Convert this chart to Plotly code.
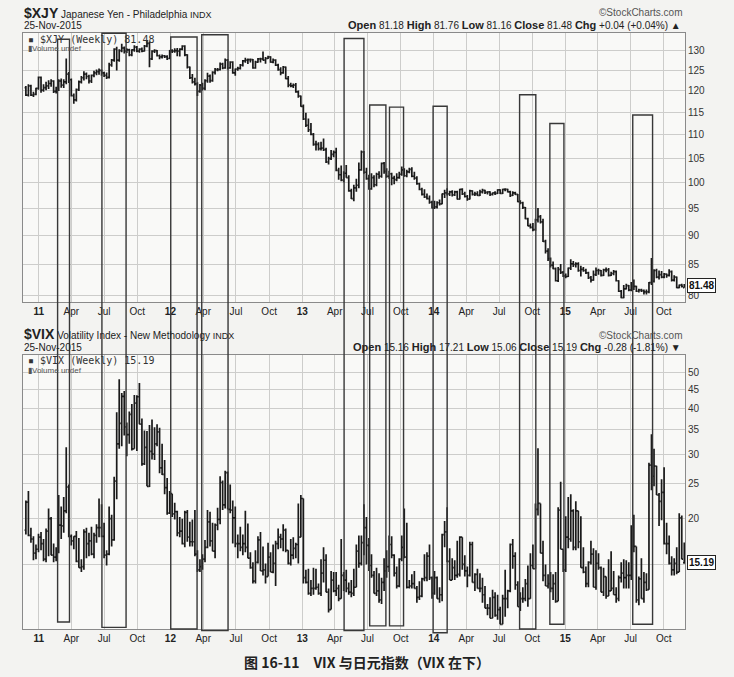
import math
import pandas as pd
import plotly.graph_objects as go

# ---------------- DATA (weekly bars, week ending Friday) ----------------
week_first = '2010-11-26'

xjy_open = [
 120.8,119.0,121.2,119.0,119.2,120.6,
 123.3,120.2,120.8,121.2,121.8,122.4,119.9,120.3,122.4,121.4,122.2,124.1,122.7,118.9,117.9,120.3,122.2,123.2,124.1,123.5,122.4,123.8,124.4,124.7,125.0,124.4,123.8,123.3,126.4,127.6,130.4,127.6,130.0,130.7,129.9,130.2,128.9,130.2,130.9,129.9,130.4,129.9,131.2,131.9,127.9,129.9,130.0,128.7,128.4,128.7,128.5,128.0,
 130.0,129.9,130.0,129.9,130.4,131.2,128.9,125.8,123.2,122.2,121.7,119.9,121.4,120.6,122.5,123.6,122.5,124.5,125.2,125.2,126.6,125.6,127.6,125.6,127.1,124.4,125.3,125.5,126.3,127.4,127.6,127.7,127.7,125.6,127.1,127.9,127.9,127.6,128.0,128.4,127.1,127.6,126.3,125.2,124.4,125.8,123.0,121.4,121.2,121.4,119.8,118.8,
 116.4,113.5,112.1,111.1,110.1,107.9,107.9,107.0,107.1,106.8,104.2,104.9,105.8,106.2,102.5,101.6,100.5,101.9,101.0,98.4,96.9,99.0,99.5,102.6,106.3,102.1,100.8,98.8,101.0,99.6,101.7,101.3,103.9,102.3,101.3,101.8,100.9,100.6,101.0,101.7,102.6,101.4,102.2,102.7,101.3,100.9,99.8,98.7,97.7,97.2,96.9,96.2,
 95.1,95.3,96.1,95.9,97.8,98.0,97.8,98.2,97.6,98.2,96.8,98.7,97.8,97.3,96.8,98.4,97.7,97.8,97.5,98.2,98.5,98.1,98.2,97.7,98.0,97.9,98.6,97.9,98.7,98.7,98.2,97.5,98.0,97.7,96.3,96.1,95.2,93.1,91.8,91.5,91.1,92.9,93.5,92.5,89.0,87.3,86.0,84.9,84.3,82.3,84.2,83.7,
 83.1,83.0,84.4,85.1,85.0,85.1,84.0,84.2,84.0,83.6,82.8,82.4,83.3,84.0,84.0,83.2,84.1,84.1,83.2,83.5,83.8,82.3,80.6,79.6,81.0,81.5,80.8,81.4,81.4,80.6,80.8,80.7,80.5,80.5,82.0,82.2,84.0,82.9,83.3,82.9,83.4,83.2,83.8,82.4,82.9,81.2,81.6,81.18]
xjy_high = [
 121.2,121.6,121.5,119.8,120.8,123.5,
 123.5,121.6,122.2,122.6,122.8,122.6,121.0,122.8,123.0,122.8,128.0,124.6,123.0,119.4,120.6,122.5,123.6,124.8,124.5,123.9,124.0,124.9,125.2,125.5,125.2,124.7,124.5,126.9,127.9,130.6,131.0,130.4,131.8,131.1,130.6,130.5,130.4,131.4,131.2,130.6,130.8,131.5,132.7,132.4,130.1,130.4,130.2,129.0,129.0,128.9,128.8,130.2,
 130.4,130.6,130.7,130.6,131.4,131.4,129.1,126.0,124.1,123.2,122.1,121.7,122.0,122.8,124.4,124.0,124.8,125.6,125.6,127.0,126.9,128.0,127.9,127.3,127.3,125.5,125.9,126.6,127.6,128.2,128.0,128.0,127.9,127.4,128.1,128.2,129.8,128.4,128.7,128.6,128.0,127.8,126.7,125.8,126.1,126.0,123.6,122.0,121.8,121.9,120.1,118.9,
 116.8,114.9,113.6,112.6,110.4,108.7,108.4,108.5,109.2,107.2,105.3,106.7,106.6,107.2,103.0,103.5,102.3,103.6,101.5,98.8,99.6,100.8,104.1,106.6,106.5,103.0,101.6,101.9,101.5,102.0,102.3,104.1,104.2,102.9,102.4,102.0,101.4,101.9,102.2,103.3,102.9,102.6,103.0,103.1,102.2,101.3,100.0,99.0,98.7,97.9,97.5,96.5,
 96.5,96.4,96.7,97.9,98.6,98.9,98.4,98.5,98.4,98.4,98.8,98.9,98.2,97.6,98.6,98.5,98.2,98.3,98.6,98.8,98.6,98.3,98.3,98.1,98.3,98.7,98.7,98.8,98.9,98.8,98.4,98.3,98.2,97.8,96.6,96.3,95.3,93.3,92.2,92.3,93.1,95.1,93.8,93.1,89.3,87.8,86.2,85.5,84.5,84.6,85.1,83.9,
 83.5,84.5,85.9,85.6,85.4,85.4,84.8,84.6,84.3,83.8,83.1,84.0,84.5,84.3,84.1,84.3,84.5,84.4,83.8,84.1,84.0,82.4,80.8,81.6,81.8,81.6,82.1,82.5,81.5,81.0,81.0,80.9,80.9,82.1,86.1,84.2,84.3,84.0,83.9,83.6,83.5,84.2,84.0,83.2,83.0,81.7,81.8,81.76]
xjy_low = [
 118.8,118.7,118.8,118.6,119.0,120.3,
 119.6,119.8,120.2,120.5,121.0,119.5,119.4,120.0,120.8,120.7,121.6,121.9,118.7,117.0,117.5,120.0,121.8,122.5,122.8,121.8,121.9,123.3,123.8,123.9,123.7,123.4,122.9,123.0,125.9,127.2,125.0,127.2,129.6,129.3,129.4,128.6,128.6,129.7,129.6,129.5,129.6,129.8,130.9,125.8,127.6,129.4,128.5,127.8,128.0,128.1,127.6,127.8,
 129.4,129.5,128.6,128.5,130.1,128.6,125.5,122.9,121.8,121.3,118.8,119.6,120.1,120.2,122.0,122.0,122.2,124.0,124.8,125.0,125.3,125.4,125.2,125.4,124.2,123.7,124.9,125.2,126.0,126.9,126.6,127.0,125.4,125.4,126.9,127.0,127.5,126.7,127.9,126.9,126.8,126.1,124.9,123.8,124.2,122.8,120.9,120.9,120.7,119.6,118.4,116.3,
 113.3,111.7,110.6,109.9,107.6,106.6,106.6,106.6,106.5,104.0,103.7,104.6,105.2,102.3,100.6,100.3,100.1,101.0,98.2,96.8,96.4,98.2,98.9,102.4,101.8,100.6,98.6,98.6,99.1,99.3,100.8,101.0,101.8,101.0,100.8,99.5,99.7,100.3,100.8,101.4,101.2,101.1,101.9,101.1,100.6,99.6,98.5,97.5,97.0,96.7,95.9,95.0,
 94.9,95.0,95.6,95.8,97.0,97.5,97.4,97.3,97.4,96.7,96.7,97.6,97.1,96.5,96.7,97.5,97.4,97.4,97.4,97.9,97.8,97.7,97.4,97.5,97.6,97.8,97.8,97.8,98.3,98.1,97.2,97.4,97.6,96.2,95.8,94.9,93.0,91.7,91.3,90.8,90.9,92.4,92.2,88.9,86.9,85.6,84.5,84.2,82.2,82.1,83.4,82.9,
 82.7,82.9,84.1,84.6,84.5,83.8,83.0,83.8,83.4,82.6,82.0,82.3,83.1,83.3,83.0,83.1,83.7,83.0,83.1,83.2,82.2,80.5,79.5,79.5,80.9,80.6,80.6,80.8,80.5,80.4,80.5,80.1,80.1,80.3,81.6,82.0,82.7,82.5,82.7,82.7,82.8,83.0,82.2,82.2,81.1,81.1,81.2,81.16]
xjy_close = [
 119.0,121.2,119.0,119.2,120.6,123.3,
 120.2,120.8,121.2,121.8,122.4,119.9,120.3,122.4,121.4,122.2,124.1,122.7,118.9,117.9,120.3,122.2,123.2,124.1,123.5,122.4,123.8,124.4,124.7,125.0,124.4,123.8,123.3,126.4,127.6,130.4,127.6,130.0,130.7,129.9,130.2,128.9,130.2,130.9,129.9,130.4,129.9,131.2,131.9,127.9,129.9,130.0,128.7,128.4,128.7,128.5,128.0,130.0,
 129.9,130.0,129.9,130.4,131.2,128.9,125.8,123.2,122.2,121.7,119.9,121.4,120.6,122.5,123.6,122.5,124.5,125.2,125.2,126.6,125.6,127.6,125.6,127.1,124.4,125.3,125.5,126.3,127.4,127.6,127.7,127.7,125.6,127.1,127.9,127.9,127.6,128.0,128.4,127.1,127.6,126.3,125.2,124.4,125.8,123.0,121.4,121.2,121.4,119.8,118.8,116.4,
 113.5,112.1,111.1,110.1,107.9,107.9,107.0,107.1,106.8,104.2,104.9,105.8,106.2,102.5,101.6,100.5,101.9,101.0,98.4,96.9,99.0,99.5,102.6,106.3,102.1,100.8,98.8,101.0,99.6,101.7,101.3,103.9,102.3,101.3,101.8,100.9,100.6,101.0,101.7,102.6,101.4,102.2,102.7,101.3,100.9,99.8,98.7,97.7,97.2,96.9,96.2,95.1,
 95.3,96.1,95.9,97.8,98.0,97.8,98.2,97.6,98.2,96.8,98.7,97.8,97.3,96.8,98.4,97.7,97.8,97.5,98.2,98.5,98.1,98.2,97.7,98.0,97.9,98.6,97.9,98.7,98.7,98.2,97.5,98.0,97.7,96.3,96.1,95.2,93.1,91.8,91.5,91.1,92.9,93.5,92.5,89.0,87.3,86.0,84.9,84.3,82.3,84.2,83.7,83.1,
 83.0,84.4,85.1,85.0,85.1,84.0,84.2,84.0,83.6,82.8,82.4,83.3,84.0,84.0,83.2,84.1,84.1,83.2,83.5,83.8,82.3,80.6,79.6,81.0,81.5,80.8,81.4,81.4,80.6,80.8,80.7,80.5,80.5,82.0,82.2,84.0,82.9,83.3,82.9,83.4,83.2,83.8,82.4,82.9,81.2,81.6,81.4,81.48]

vix_open = [
 18.6,22.2,18.0,17.6,16.1,16.5,
 17.8,17.1,15.5,18.5,20.0,15.9,15.7,16.4,19.2,19.1,21.0,24.4,17.9,17.4,17.9,15.3,14.7,14.8,18.4,17.1,17.4,16.0,18.0,18.9,18.9,17.9,15.9,16.0,20.0,17.5,25.3,32.0,36.4,43.1,35.6,33.9,38.5,31.0,41.3,43.0,36.2,28.2,31.3,24.5,30.5,30.0,32.0,34.5,27.5,26.4,24.3,20.7,
 23.4,20.6,20.9,18.3,18.5,17.1,20.8,17.8,17.3,17.3,16.0,14.5,14.8,15.5,16.7,19.6,17.4,16.3,19.2,19.9,25.1,21.8,26.7,21.2,21.1,20.1,17.1,17.1,16.7,17.1,16.7,15.6,14.7,13.5,15.2,17.5,14.4,14.5,13.9,15.7,14.3,15.1,17.1,17.8,17.6,18.6,16.4,15.1,15.9,16.6,17.0,17.8,
 22.7,13.8,13.4,12.5,12.9,12.9,13.0,12.5,14.2,15.4,12.6,11.3,13.6,12.7,12.9,12.1,14.0,13.6,12.9,12.6,12.5,13.0,16.3,15.1,17.2,18.9,16.9,14.9,14.0,12.5,12.7,12.0,13.4,14.4,14.8,17.0,15.9,14.2,13.1,15.5,16.7,15.7,13.0,13.1,13.3,12.9,12.2,12.3,13.7,13.8,15.8,13.8,
 12.5,13.8,12.1,12.4,18.1,18.4,15.3,13.6,14.7,14.0,14.1,17.8,15.0,14.4,14.0,17.0,13.4,14.1,12.9,12.9,12.4,11.4,11.4,10.7,12.2,10.9,11.3,10.3,12.1,12.1,12.7,17.0,15.8,13.2,11.5,12.1,12.1,13.3,12.1,14.9,14.6,21.2,22.0,16.1,14.0,13.1,13.3,12.9,13.3,11.9,21.1,16.5,
 14.5,17.8,17.6,21.0,16.7,21.0,17.3,14.7,14.3,13.3,15.2,16.0,13.0,15.1,14.7,12.6,13.9,12.3,12.7,12.9,12.4,12.1,13.8,14.2,13.8,14.0,14.0,16.8,16.8,12.0,13.7,12.1,13.4,12.8,28.0,26.1,27.8,23.2,22.3,23.6,17.1,17.1,15.1,14.5,15.1,14.3,20.1,15.16]
vix_high = [
 22.4,23.8,18.9,17.9,17.0,18.2,
 18.4,17.6,18.8,21.3,20.2,17.1,16.7,23.2,21.6,22.9,31.3,24.8,18.1,17.9,18.5,17.7,15.5,18.7,18.9,18.3,19.0,18.3,19.3,22.7,21.9,19.5,16.4,21.6,20.5,26.0,39.0,48.0,44.0,44.6,36.6,39.2,41.1,43.5,43.4,46.9,37.5,34.8,34.7,36.0,37.3,35.5,36.2,35.4,32.0,28.9,25.8,23.8,
 23.4,22.1,21.0,20.2,20.0,21.0,21.1,19.6,19.9,21.1,16.4,15.5,16.0,17.5,21.1,20.9,19.5,19.4,21.4,26.1,25.4,27.0,26.9,24.8,22.4,21.6,18.1,19.0,18.1,21.0,19.4,16.2,15.2,16.4,17.9,18.4,16.8,15.1,17.2,16.2,17.0,17.4,18.8,18.2,19.3,18.8,16.4,17.6,17.8,17.2,22.0,23.2,
 22.7,14.5,14.6,13.6,14.7,14.6,13.3,15.5,16.7,16.0,12.9,14.4,14.3,14.3,13.2,17.6,14.3,14.5,13.4,13.6,14.6,17.0,18.0,18.0,21.9,20.2,17.7,16.0,14.4,14.7,14.2,13.8,15.6,16.4,18.0,17.9,16.0,14.8,15.6,18.0,21.3,19.5,13.6,14.1,14.4,13.1,13.5,13.8,16.0,16.2,17.0,13.9,
 14.4,13.9,13.0,18.2,19.7,21.5,16.6,15.6,15.4,17.4,17.9,17.8,15.9,14.8,17.3,17.3,14.2,14.6,14.2,13.8,13.1,11.7,12.2,12.8,12.6,12.4,11.5,12.4,14.5,12.8,17.1,17.6,16.2,13.5,12.6,13.0,13.7,14.9,16.1,17.0,22.0,31.1,22.0,17.4,15.0,14.1,14.3,14.1,14.3,21.5,25.2,16.5,
 20.3,22.9,23.3,21.2,22.3,21.0,20.3,16.7,14.8,15.3,17.4,16.6,16.4,16.1,14.8,14.7,13.9,15.5,16.3,14.4,13.0,14.0,15.2,15.5,15.4,15.2,19.2,20.5,16.8,13.9,15.6,14.3,14.2,28.4,34.0,31.0,27.9,23.5,25.6,27.6,19.5,18.0,15.8,15.6,16.7,20.7,20.4,17.21]
vix_low = [
 18.1,17.9,17.2,15.4,15.5,16.2,
 16.4,15.3,15.2,15.8,15.9,15.2,15.3,16.1,17.6,18.3,20.7,17.8,16.9,16.5,15.2,14.7,14.3,14.5,15.6,15.8,15.9,15.6,17.2,17.8,17.8,15.6,14.9,15.9,16.8,17.4,22.6,31.0,31.5,33.7,29.6,32.0,30.7,31.0,30.6,36.2,27.9,28.0,24.5,24.4,29.0,28.9,31.5,26.6,26.3,23.3,20.5,20.6,
 20.2,19.9,17.9,17.8,17.0,16.7,17.3,16.8,16.8,15.8,14.3,14.3,14.5,15.2,16.6,16.8,16.3,15.6,18.6,19.3,21.1,21.3,21.2,20.7,17.1,16.7,15.6,16.3,15.9,16.2,15.6,14.6,13.3,13.3,15.1,14.4,14.0,13.3,13.9,14.3,14.2,13.1,16.5,16.6,16.3,16.2,15.0,14.9,15.5,15.6,15.1,17.8,
 13.3,13.3,12.4,12.3,12.4,12.8,12.4,12.3,13.4,12.6,11.1,11.3,12.6,12.3,11.9,12.1,12.7,12.6,12.4,12.2,12.3,13.0,14.7,14.9,15.9,15.0,14.4,13.8,12.5,12.3,11.8,11.7,12.7,13.8,14.3,15.6,13.9,12.9,13.0,15.3,15.6,12.9,12.9,12.9,12.9,11.8,12.0,12.2,13.5,13.5,13.6,12.1,
 12.4,12.1,11.8,11.9,16.7,15.2,13.6,13.6,13.6,13.8,13.9,14.5,13.9,13.0,13.9,13.4,12.7,12.9,12.6,11.8,11.4,10.9,10.7,10.7,10.8,10.6,10.3,10.3,10.8,11.4,12.6,14.6,12.8,11.5,11.2,11.8,11.9,11.5,12.1,14.6,14.6,20.4,16.1,13.5,13.1,12.9,12.6,12.0,11.8,11.9,16.5,14.3,
 14.3,16.6,17.3,16.4,16.4,16.6,14.7,14.2,13.0,13.0,15.0,13.0,12.8,14.5,12.6,12.3,12.1,12.3,12.7,12.4,11.8,11.9,13.4,12.9,12.9,12.9,13.6,16.2,11.8,11.6,12.1,11.8,12.7,12.8,23.9,24.5,23.2,19.1,19.8,17.0,16.0,15.0,14.0,14.0,14.1,14.3,15.5,15.06]
vix_close = [
 22.2,18.0,17.6,16.1,16.5,17.8,
 17.1,15.5,18.5,20.0,15.9,15.7,16.4,19.2,19.1,21.0,24.4,17.9,17.4,17.9,15.3,14.7,14.8,18.4,17.1,17.4,16.0,18.0,18.9,18.9,17.9,15.9,16.0,20.0,17.5,25.3,32.0,36.4,43.1,35.6,33.9,38.5,31.0,41.3,43.0,36.2,28.2,31.3,24.5,30.5,30.0,32.0,34.5,27.5,26.4,24.3,20.7,23.4,
 20.6,20.9,18.3,18.5,17.1,20.8,17.8,17.3,17.3,16.0,14.5,14.8,15.5,16.7,19.6,17.4,16.3,19.2,19.9,25.1,21.8,26.7,21.2,21.1,20.1,17.1,17.1,16.7,17.1,16.7,15.6,14.7,13.5,15.2,17.5,14.4,14.5,13.9,15.7,14.3,15.1,17.1,17.8,17.6,18.6,16.4,15.1,15.9,16.6,17.0,17.8,22.7,
 13.8,13.4,12.5,12.9,12.9,13.0,12.5,14.2,15.4,12.6,11.3,13.6,12.7,12.9,12.1,14.0,13.6,12.9,12.6,12.5,13.0,16.3,15.1,17.2,18.9,16.9,14.9,14.0,12.5,12.7,12.0,13.4,14.4,14.8,17.0,15.9,14.2,13.1,15.5,16.7,15.7,13.0,13.1,13.3,12.9,12.2,12.3,13.7,13.8,15.8,13.8,12.5,
 13.8,12.1,12.4,18.1,18.4,15.3,13.6,14.7,14.0,14.1,17.8,15.0,14.4,14.0,17.0,13.4,14.1,12.9,12.9,12.4,11.4,11.4,10.7,12.2,10.9,11.3,10.3,12.1,12.1,12.7,17.0,15.8,13.2,11.5,12.1,12.1,13.3,12.1,14.9,14.6,21.2,22.0,16.1,14.0,13.1,13.3,12.9,13.3,11.9,21.1,16.5,14.5,
 17.8,17.6,21.0,16.7,21.0,17.3,14.7,14.3,13.3,15.2,16.0,13.0,15.1,14.7,12.6,13.9,12.3,12.7,12.9,12.4,12.1,13.8,14.2,13.8,14.0,14.0,16.8,16.8,12.0,13.7,12.1,13.4,12.8,28.0,26.1,27.8,23.2,22.3,23.6,17.1,17.1,15.1,14.5,15.1,14.3,20.1,15.5,15.19]

# quarter tick marks and their labels (year labels are bold)
tick_dates = ['2011-01-01','2011-04-01','2011-07-01','2011-10-01',
              '2012-01-01','2012-04-01','2012-07-01','2012-10-01',
              '2013-01-01','2013-04-01','2013-07-01','2013-10-01',
              '2014-01-01','2014-04-01','2014-07-01','2014-10-01',
              '2015-01-01','2015-04-01','2015-07-01','2015-10-01']
tick_labels = ['11','Apr','Jul','Oct','12','Apr','Jul','Oct','13','Apr','Jul','Oct',
               '14','Apr','Jul','Oct','15','Apr','Jul','Oct']
xjy_ticks = [80, 85, 90, 95, 100, 105, 110, 115, 120, 125, 130]
vix_ticks = [15, 20, 25, 30, 35, 40, 45, 50]
vix_tick_labels = ['', '20', '25', '30', '35', '40', '45', '50']

# hand-drawn highlight boxes: date span, top (in XJY units), bottom (in VIX units)
box_start = ['2011-02-22','2011-06-25','2012-01-02','2012-03-28','2013-04-27','2013-07-07',
             '2013-08-31','2013-12-30','2014-08-27','2014-11-19','2015-07-07']
box_end   = ['2011-03-27','2011-08-31','2012-03-15','2012-06-09','2013-06-21','2013-08-21',
             '2013-10-09','2014-02-07','2014-10-11','2014-12-28','2015-08-31']
box_top_xjy    = [133.0, 134.6, 133.6, 134.2, 133.2, 116.7, 116.2, 116.4, 119.1, 112.5, 114.4]
box_bottom_vix = [10.45, 10.1, 10.0, 9.9, 9.9, 10.2, 10.2, 9.77, 10.0, 10.3, 10.3]

# ---------------- LAYOUT GEOMETRY ----------------
W, H = 734, 677
ML, MR, MT, MB = 23, 49, 33, 48
PW, PH = W - ML - MR, H - MT - MB

def fx(px):
    return (px - ML) / PW

def fy(py):
    return (H - MB - py) / PH

top_dom = [fy(302), 1.0]
bot_dom = [0.0, fy(355)]
top_rng = [math.log10(78.9), math.log10(134.65)]
bot_rng = [1.0, math.log10(55.9)]
x_rng = ['2010-11-18', '2015-11-29']

weeks = pd.date_range(week_first, periods=len(xjy_close), freq='W-FRI')

BAR = '#1a1a1a'
GRID = '#cdcdcb'
PAPER = '#f3f3f1'
FONT = 'Liberation Sans Narrow, Liberation Sans, Arial, sans-serif'

fig = go.Figure()
for xa, ya, o, h, l, c in [('x', 'y', xjy_open, xjy_high, xjy_low, xjy_close),
                           ('x2', 'y2', vix_open, vix_high, vix_low, vix_close)]:
    fig.add_trace(go.Ohlc(x=weeks, open=o, high=h, low=l, close=c,
                          increasing=dict(line=dict(color=BAR, width=1.7)),
                          decreasing=dict(line=dict(color=BAR, width=1.7)),
                          tickwidth=0.5, xaxis=xa, yaxis=ya, showlegend=False, hoverinfo='skip'))

ticktext = ['<b>%s</b>' % t if t.isdigit() else t for t in tick_labels]
xcommon = dict(type='date', range=x_rng, tickmode='array', tickvals=tick_dates, ticktext=ticktext,
               showgrid=True, gridcolor=GRID, gridwidth=1, showline=True, linecolor='#8a8a8a',
               linewidth=1, mirror=True, ticks='', zeroline=False,
               tickfont=dict(family=FONT, size=10, color='#222'),
               rangeslider=dict(visible=False), fixedrange=True)
ycommon = dict(type='log', side='right', showgrid=True, gridcolor=GRID, gridwidth=1,
               showline=True, linecolor='#8a8a8a', linewidth=1, mirror=True, ticks='',
               zeroline=False, tickfont=dict(family=FONT, size=10, color='#333'), fixedrange=True)

fig.update_layout(
    width=W, height=H, margin=dict(l=ML, r=MR, t=MT, b=MB),
    paper_bgcolor=PAPER, plot_bgcolor='#f9f9f7',
    showlegend=False,
    xaxis=dict(xcommon, domain=[0, 1], anchor='y'),
    xaxis2=dict(xcommon, domain=[0, 1], anchor='y2'),
    yaxis=dict(ycommon, domain=top_dom, range=top_rng, anchor='x',
               tickmode='array', tickvals=xjy_ticks, ticktext=[str(v) for v in xjy_ticks]),
    yaxis2=dict(ycommon, domain=bot_dom, range=bot_rng, anchor='x2',
                tickmode='array', tickvals=vix_ticks, ticktext=vix_tick_labels),
)

# highlight boxes spanning both panels
def top_frac(v):
    return top_dom[0] + (math.log10(v) - top_rng[0]) / (top_rng[1] - top_rng[0]) * (top_dom[1] - top_dom[0])

def bot_frac(v):
    return bot_dom[0] + (math.log10(v) - bot_rng[0]) / (bot_rng[1] - bot_rng[0]) * (bot_dom[1] - bot_dom[0])

for s, e, t, b in zip(box_start, box_end, box_top_xjy, box_bottom_vix):
    fig.add_shape(type='rect', xref='x', yref='paper', x0=s, x1=e,
                  y0=bot_frac(b), y1=top_frac(t),
                  line=dict(color='#383838', width=1.4), fillcolor='rgba(0,0,0,0)', layer='above')

ann = []
def txt(x, y, text, size=10, anchor='left', color='#222', family=FONT, yanchor='middle'):
    ann.append(dict(xref='paper', yref='paper', x=fx(x), y=fy(y), text=text, showarrow=False,
                    xanchor=anchor, yanchor=yanchor,
                    font=dict(family=family, size=size, color=color)))

# XJY header
txt(22, 13, "<b><span style='font-size:14px'>$XJY</span></b> Japanese Yen - Philadelphia <span style='font-size:9px'>INDX</span>", 10)
txt(22, 25, '25-Nov-2015', 10)
txt(685, 13, '©StockCharts.com', 10, anchor='right', color='#555')
txt(683, 25, "<b><span style='font-size:11px'>Open</span></b> 81.18 <b><span style='font-size:11px'>High</span></b> 81.76 "
             "<b><span style='font-size:11px'>Low</span></b> 81.16 <b><span style='font-size:11px'>Close</span></b> 81.48 "
             "<b><span style='font-size:11px'>Chg</span></b> +0.04 (+0.04%) ▲", 10, anchor='right')
txt(26, 39, '▪ $XJY (Weekly) 81.48', 10, color='#333', family='DejaVu Sans Mono, monospace')
txt(26, 49, '▮Volume undef', 8, color='#555')

# VIX header
txt(22, 334, "<b><span style='font-size:14px'>$VIX</span></b> Volatility Index - New Methodology <span style='font-size:9px'>INDX</span>", 10)
txt(22, 347, '25-Nov-2015', 10)
txt(685, 335, '©StockCharts.com', 10, anchor='right', color='#555')
txt(683, 347, "<b><span style='font-size:11px'>Open</span></b> 15.16 <b><span style='font-size:11px'>High</span></b> 17.21 "
              "<b><span style='font-size:11px'>Low</span></b> 15.06 <b><span style='font-size:11px'>Close</span></b> 15.19 "
              "<b><span style='font-size:11px'>Chg</span></b> -0.28 (-1.81%) ▼", 10, anchor='right')
txt(26, 360, '▪ $VIX (Weekly) 15.19', 10, color='#333', family='DejaVu Sans Mono, monospace')
txt(26, 370, '▮Volume undef', 8, color='#555')

# last-value tags on the right axes
for yref, val, label in [('y', xjy_close[-1], '81.48'), ('y2', vix_close[-1], '15.19')]:
    ann.append(dict(xref='paper', yref=yref, x=1.0, y=math.log10(val), xanchor='left', xshift=2,
                    text='<b>%s</b>' % label, showarrow=False, bgcolor='#ffffff',
                    bordercolor='#222', borderwidth=1, borderpad=1,
                    font=dict(family=FONT, size=10, color='#111')))

# caption
txt(367, 662, '<b>图 16-11　VIX 与日元指数（VIX 在下）</b>', 14, anchor='center', color='#222',
    family='Noto Sans CJK SC, Noto Sans, sans-serif')

fig.update_layout(annotations=ann)
fig.write_html('out.html', config={'displayModeBar': False},
               post_script="document.body.style.margin='0px';document.body.style.background='%s';" % PAPER)
